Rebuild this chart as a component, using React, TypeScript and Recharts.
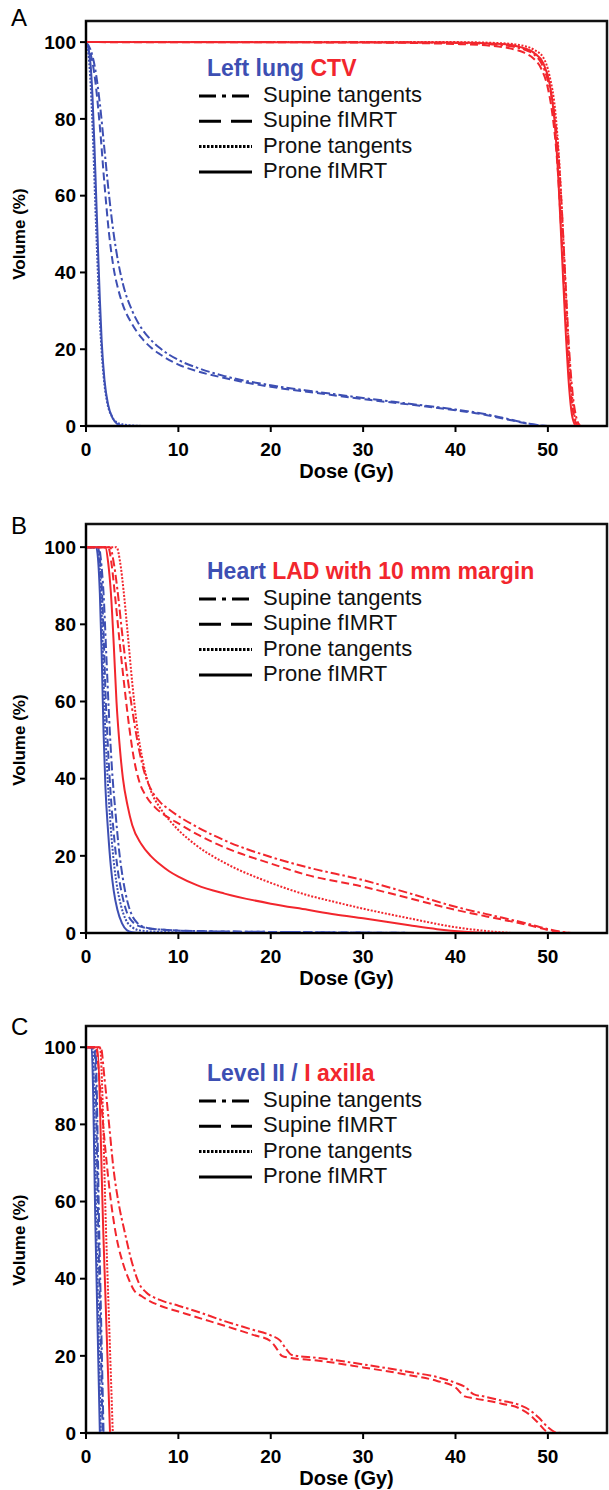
import React from 'react';
import { LineChart, Line, XAxis, YAxis, ReferenceArea, Legend } from 'recharts';

type Pt = [number, number];

const FONT = "'Liberation Sans', Arial, Helvetica, sans-serif";
const BLUE = '#3d4fb3';
const RED = '#f2262d';

const doseTicks = [0, 10, 20, 30, 40, 50];
const volTicks = [0, 20, 40, 60, 80, 100];
const planNames = ['Supine tangents', 'Supine fIMRT', 'Prone tangents', 'Prone fIMRT'];

// A: left lung (blue) / CTV (red)
const lungSupTan: Pt[] = [[0, 100], [0.5, 98], [1, 93], [1.5, 84], [2, 72], [2.5, 60], [3, 50], [3.5, 42.5], [4, 37], [5, 30], [6, 25.5], [7, 22.5], [8, 20.3], [10, 17.2], [12, 15.2], [15, 13], [20, 10.6], [25, 8.9], [30, 7.3], [35, 5.8], [40, 4.3], [43, 3.2], [45, 2.2], [47, 1.1], [48, 0.6], [49, 0.2], [50, 0]];
const lungSupFimrt: Pt[] = [[0, 100], [0.5, 97], [1, 90], [1.5, 78], [2, 63], [2.5, 50], [3, 41], [3.5, 35.5], [4, 31.5], [5, 26.5], [6, 23], [7, 20.5], [8, 18.7], [10, 16], [12, 14.3], [15, 12.5], [20, 10.2], [25, 8.6], [30, 7], [35, 5.6], [40, 4.1], [43, 3], [45, 2], [47, 1], [48, 0.5], [49, 0.2], [50, 0]];
const lungProTan: Pt[] = [[0, 100], [0.2, 98], [0.4, 93], [0.6, 84], [0.8, 72], [1, 58], [1.2, 45], [1.4, 33], [1.6, 23], [1.9, 13], [2.3, 6], [2.8, 2.5], [3.3, 1], [4, 0.4], [5, 0.15], [6.5, 0]];
const lungProFimrt: Pt[] = [[0, 100], [0.3, 98], [0.5, 94], [0.7, 86], [0.9, 74], [1.1, 60], [1.3, 46], [1.5, 33], [1.7, 22], [2, 12], [2.4, 5.5], [2.9, 2], [3.4, 0.5], [4, 0]];
const ctvSupTan: Pt[] = [[0, 100], [30, 100], [40, 99.8], [44, 99.4], [46, 98.9], [47.5, 98], [48.5, 96.8], [49.3, 94.5], [50, 90], [50.6, 83], [51.1, 72], [51.5, 57], [51.9, 38], [52.3, 20], [52.7, 8], [53.1, 2], [53.5, 0]];
const ctvSupFimrt: Pt[] = [[0, 100], [30, 99.9], [40, 99.5], [44, 99], [46, 98.3], [47.5, 97.2], [48.5, 95.6], [49.3, 93], [50, 88], [50.5, 81], [51, 69], [51.4, 53], [51.8, 34], [52.2, 17], [52.6, 6], [53, 1], [53.3, 0]];
const ctvProTan: Pt[] = [[0, 100], [40, 100], [45, 99.7], [47, 99.2], [48.5, 98], [49.5, 96], [50.2, 91], [50.8, 82], [51.2, 70], [51.6, 52], [52, 32], [52.4, 14], [52.8, 4], [53.2, 0]];
const ctvProFimrt: Pt[] = [[0, 100], [40, 99.9], [45, 99.5], [47, 98.7], [48.5, 97.2], [49.5, 94.5], [50.2, 89], [50.7, 80], [51.1, 66], [51.5, 46], [51.9, 26], [52.3, 10], [52.6, 3], [53, 0]];

// B: heart (blue) / LAD with 10 mm margin (red)
const heartSupTan: Pt[] = [[0, 100], [1.4, 100], [1.6, 97], [1.9, 88], [2.2, 72], [2.5, 56], [2.8, 43], [3.2, 31], [3.6, 21], [4, 14], [4.5, 8], [5, 4.5], [5.6, 2.5], [6.5, 1.4], [8, 0.9], [12, 0.5], [25, 0.2], [37, 0]];
const heartSupFimrt: Pt[] = [[0, 100], [1.3, 100], [1.5, 97], [1.7, 90], [1.9, 78], [2.1, 63], [2.4, 47], [2.7, 35], [3, 26], [3.4, 17], [3.9, 10], [4.4, 5.5], [5, 3], [6, 1.6], [8, 0.9], [12, 0.5], [25, 0.2], [37, 0]];
const heartProTan: Pt[] = [[0, 100], [1.2, 100], [1.4, 97], [1.6, 89], [1.8, 75], [2, 58], [2.3, 42], [2.6, 30], [2.9, 21], [3.3, 13], [3.8, 7], [4.3, 3.5], [5, 1.5], [6, 0.6], [8, 0.3], [15, 0]];
const heartProFimrt: Pt[] = [[0, 100], [1.1, 100], [1.3, 97], [1.5, 88], [1.7, 72], [1.9, 52], [2.1, 38], [2.4, 26], [2.7, 17], [3, 11], [3.4, 6], [3.9, 2.5], [4.4, 0.8], [5, 0.2], [6, 0]];
const ladSupTan: Pt[] = [[0, 100], [2.6, 100], [3, 96], [3.4, 89], [3.9, 78], [4.4, 68], [5, 58], [5.7, 48], [6.4, 41], [7.2, 36.5], [8, 34], [9, 32], [10, 30.3], [12, 27.5], [15, 24], [20, 19.7], [24, 17], [30, 13.7], [35, 10.3], [40, 6.8], [45, 4], [48, 2.3], [50, 1], [51.5, 0.3], [52.5, 0]];
const ladSupFimrt: Pt[] = [[0, 100], [2.4, 100], [2.8, 95], [3.2, 86], [3.7, 74], [4.2, 63], [4.7, 53], [5.2, 45], [5.8, 39], [6.5, 35.5], [7.5, 32.5], [9, 29.8], [10, 28.4], [12, 25.6], [15, 22.2], [20, 18], [24, 15], [30, 12], [35, 9], [40, 6], [45, 3.5], [48, 2], [50, 0.8], [51.5, 0.2], [52.5, 0]];
const ladProTan: Pt[] = [[0, 100], [3.3, 100], [3.7, 96], [4.1, 88], [4.5, 78], [5, 65], [5.5, 54], [6.2, 44], [7, 37], [8, 32.5], [9, 29.3], [10, 26.7], [12, 22.6], [15, 18.2], [20, 13], [24, 9.8], [27, 8], [30, 6.3], [35, 3.8], [40, 1.5], [43, 0.6], [46, 0]];
const ladProFimrt: Pt[] = [[0, 100], [2.1, 100], [2.4, 96], [2.7, 88], [3, 75], [3.3, 60], [3.7, 47], [4, 40], [4.5, 33], [5, 28], [6, 23], [7, 20], [8, 17.8], [9, 16], [10, 14.6], [12, 12.4], [15, 10.2], [20, 7.6], [24, 6], [27, 4.8], [30, 3.8], [35, 2], [38, 1], [41, 0.3], [43, 0]];

// C: level II (blue) / I axilla (red)
const lvlSupTan: Pt[] = [[0, 100], [1, 100], [1.45, 50], [1.9, 0]];
const lvlSupFimrt: Pt[] = [[0, 100], [0.9, 100], [1.35, 50], [1.8, 0]];
const lvlProTan: Pt[] = [[0, 100], [0.7, 100], [1.15, 50], [1.6, 0]];
const lvlProFimrt: Pt[] = [[0, 100], [0.6, 100], [1.05, 50], [1.5, 0]];
const axSupTan: Pt[] = [[0, 100], [1.6, 100], [2, 92], [2.5, 80], [3, 68], [3.5, 60], [4.2, 52], [5, 44], [5.8, 38.5], [6.5, 36.5], [8, 34.5], [10, 33], [12, 31.5], [15, 29], [18, 26.8], [20, 25.3], [21, 24], [21.6, 22], [22.3, 20.2], [25, 19.5], [30, 17.8], [35, 15.8], [38, 14.5], [40, 13], [41, 12], [42, 10], [43, 9.5], [45, 8.4], [47, 7.2], [48, 6], [49, 4], [50, 1.5], [50.8, 0.2], [51.5, 0], [52.8, 0]];
const axSupFimrt: Pt[] = [[0, 100], [1.1, 100], [1.5, 90], [2, 76], [2.6, 62], [3.2, 52], [4, 44], [4.6, 40], [5.2, 37], [6, 35.5], [8, 33], [10, 31.5], [12, 30], [15, 27.8], [18, 25.5], [20, 23.8], [20.6, 22], [21.2, 20], [22, 19.5], [25, 18.8], [30, 17], [35, 15], [38, 13.5], [40, 11.8], [41, 9.5], [42, 9], [45, 7.6], [47, 6.3], [48, 4.8], [49, 2.5], [49.8, 0.5], [50.5, 0], [52.5, 0]];
const axProTan: Pt[] = [[0, 100], [1.5, 100], [2.2, 50], [2.9, 0]];
const axProFimrt: Pt[] = [[0, 100], [1.2, 100], [1.9, 50], [2.6, 0]];

const curveDash = ['9 3 2.5 3', '8 4', '2 1.6', undefined];
const legendDash = ['17 6 4 6', '22 10', '2.5 1.5', undefined];

const X_MAX = 56.4;
const X_AXIS_H = 62;

const panels = [
  {
    letter: 'A', letterY: 28, top: 0, plotTop: 21, plotH: 405, yMax: 105.5,
    title: [['Left lung ', BLUE], ['CTV', RED]],
    blue: [lungSupTan, lungSupFimrt, lungProTan, lungProFimrt],
    red: [ctvSupTan, ctvSupFimrt, ctvProTan, ctvProFimrt],
  },
  {
    letter: 'B', letterY: 536, top: 500, plotTop: 524, plotH: 409, yMax: 106,
    title: [['Heart ', BLUE], ['LAD with 10 mm margin', RED]],
    blue: [heartSupTan, heartSupFimrt, heartProTan, heartProFimrt],
    red: [ladSupTan, ladSupFimrt, ladProTan, ladProFimrt],
  },
  {
    letter: 'C', letterY: 1037, top: 1000, plotTop: 1026, plotH: 407, yMax: 105.5,
    title: [['Level II / ', BLUE], ['I axilla', RED]],
    blue: [lvlSupTan, lvlSupFimrt, lvlProTan, lvlProFimrt],
    red: [axSupTan, axSupFimrt, axProTan, axProFimrt],
  },
];

const pts = (a: Pt[]) => a.map(([d, v]) => ({ d, v }));

const LegendBox = ({ title }: { title: string[][] }) => (
  <svg width={420} height={150} style={{ display: 'block', overflow: 'visible' }}>
    <text x={14} y={25} fontFamily={FONT} fontWeight="bold" fontSize={23}>
      {title.map(([t, c], i) => (
        <tspan key={i} fill={c} style={{ whiteSpace: 'pre' }}>{t}</tspan>
      ))}
    </text>
    {planNames.map((n, i) => (
      <g key={n}>
        <line x1={6} x2={59} y1={45 + i * 25.3} y2={45 + i * 25.3} stroke="#000" strokeWidth={3}
          strokeDasharray={legendDash[i]} />
        <text x={70} y={51 + i * 25.3} fontFamily={FONT} fontSize={22} fill="#111">{n}</text>
      </g>
    ))}
  </svg>
);

const tickStyle = { fill: '#000', fontSize: 19, fontWeight: 'bold', fontFamily: FONT };

const Panel = ({ p }: { p: typeof panels[number] }) => {
  const mt = p.plotTop - p.top;
  const height = mt + p.plotH + X_AXIS_H;
  const cy = mt + p.plotH * (1 - 50 / p.yMax);
  return (
    <div style={{ position: 'absolute', left: 0, top: p.top, width: 609, height }}>
      <LineChart width={609} height={height} margin={{ top: mt, right: 2, bottom: 0, left: 0 }}>
        <XAxis dataKey="d" type="number" domain={[0, X_MAX]} ticks={doseTicks} allowDataOverflow
          height={X_AXIS_H} tickSize={6} tickMargin={11} tick={tickStyle}
          axisLine={{ stroke: '#000', strokeWidth: 2 }} tickLine={{ stroke: '#000', strokeWidth: 2 }}
          label={{ value: 'Dose (Gy)', position: 'insideBottom', offset: 10, fill: '#000', fontSize: 20, fontWeight: 'bold', fontFamily: FONT }} />
        <YAxis dataKey="v" type="number" domain={[0, p.yMax]} ticks={volTicks} allowDataOverflow
          width={86} tickSize={6} tickMargin={4} tick={tickStyle}
          axisLine={{ stroke: '#000', strokeWidth: 2 }} tickLine={{ stroke: '#000', strokeWidth: 2 }}
          label={() => (
            <text x={20} y={cy} transform={`rotate(-90 20 ${cy})`} textAnchor="middle" dominantBaseline="central"
              fontFamily={FONT} fontWeight="bold" fontSize={17} fill="#000">Volume (%)</text>
          )} />
        <ReferenceArea x1={0} x2={X_MAX} y1={0} y2={p.yMax} fill="none" fillOpacity={0} stroke="#111" strokeWidth={2.5} />
        {p.blue.map((s, i) => (
          <Line key={`b${i}`} data={pts(s)} dataKey="v" type="monotone" stroke={BLUE} strokeWidth={2}
            strokeDasharray={curveDash[i]} dot={false} activeDot={false} isAnimationActive={false} />
        ))}
        {p.red.map((s, i) => (
          <Line key={`r${i}`} data={pts(s)} dataKey="v" type="monotone" stroke={RED} strokeWidth={2}
            strokeDasharray={curveDash[i]} dot={false} activeDot={false} isAnimationActive={false} />
        ))}
        <Legend layout="horizontal" verticalAlign="middle" align="center"
          wrapperStyle={{ left: 193, top: mt + 30, width: 420, height: 150 }}
          content={() => <LegendBox title={p.title} />} />
      </LineChart>
      <div style={{ position: 'absolute', left: 11, top: p.letterY - p.top - 22, fontFamily: FONT, fontSize: 24, lineHeight: '24px', color: '#000' }}>
        {p.letter}
      </div>
    </div>
  );
};

export default function App() {
  return (
    <div style={{ position: 'absolute', left: 0, top: 0, width: 609, height: 1490, overflow: 'hidden', background: '#fff' }}>
      {panels.map((p) => <Panel key={p.letter} p={p} />)}
    </div>
  );
}
